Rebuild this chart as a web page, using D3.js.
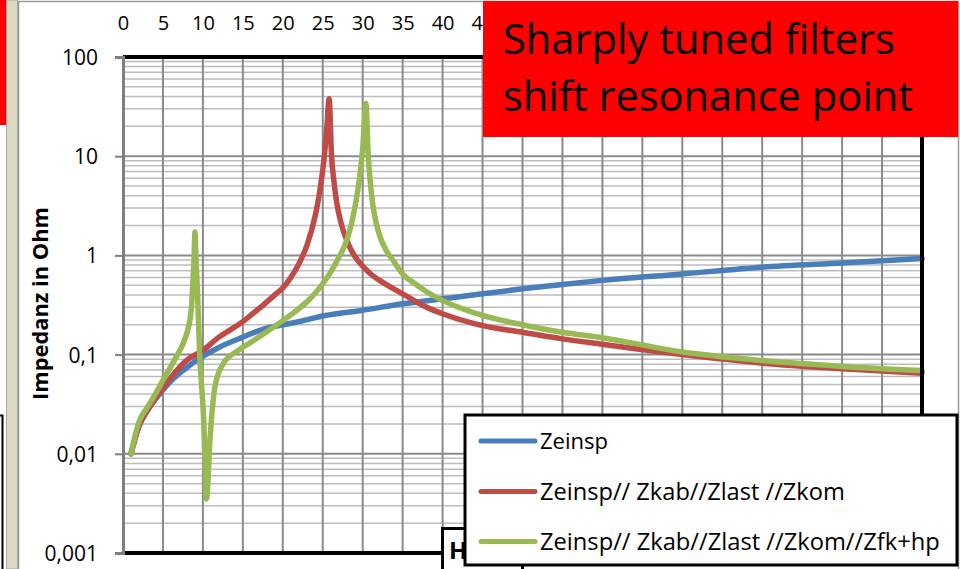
<!DOCTYPE html>
<html>
<head>
<meta charset="utf-8">
<script src="https://cdnjs.cloudflare.com/ajax/libs/d3/7.8.5/d3.min.js"></script>
<style>
  html, body { margin: 0; padding: 0; background: #ffffff; }
  svg { display: block; }
  text { font-family: "Open Sans", Lato, sans-serif; fill: #000; }
</style>
</head>
<body>
<svg id="chart" width="960" height="569"></svg>
<script>
// Frequency axis ticks (harmonic order) and impedance axis ticks
const freqTicks = [0, 5, 10, 15, 20, 25, 30, 35, 40, 45, 50, 55, 60, 65, 70, 75, 80, 85, 90, 95, 100];
const impTicks = [0.001, 0.01, 0.1, 1, 10, 100];
const impTickLabels = ["0,001", "0,01", "0,1", "1", "10", "100"];

// Series: [harmonic order, impedance in Ohm]
const zeinsp = [
  [1, 0.01], [2, 0.019], [3, 0.027], [4, 0.035], [5, 0.044], [6, 0.054], [7.5, 0.069],
  [9.6, 0.092], [12, 0.118], [15, 0.15], [17.5, 0.18], [20, 0.2], [21.7, 0.212],
  [25, 0.245], [30, 0.28], [35, 0.325], [40, 0.365], [45, 0.41], [50, 0.46],
  [55, 0.51], [60, 0.56], [70, 0.65], [80, 0.76], [90, 0.84], [100, 0.93]
];
const zkom = [
  [1, 0.01], [2, 0.019], [3, 0.027], [4, 0.036], [5, 0.046], [6.5, 0.066], [8, 0.088],
  [10, 0.11], [12, 0.15], [14, 0.19], [15, 0.215], [16, 0.25], [17, 0.29], [18, 0.34],
  [19, 0.4], [20, 0.47], [21, 0.6], [22, 0.82], [23, 1.25], [24, 2.4], [24.6, 4.3],
  [25.25, 11], [25.5, 19], [25.8, 38], [26.1, 10], [26.4, 5.6], [26.7, 3.6],
  [27.3, 2.1], [28, 1.42], [29, 0.98], [30, 0.78], [31, 0.65], [32.1, 0.56],
  [33.5, 0.48], [35, 0.41], [38, 0.3], [40, 0.258], [45, 0.196], [50, 0.168],
  [55, 0.144], [60, 0.127], [70, 0.1], [80, 0.082], [90, 0.072], [100, 0.065]
];
const zfkhp = [
  [1, 0.01], [2, 0.021], [3, 0.029], [3.8, 0.037], [5, 0.055], [6.3, 0.084],
  [7.5, 0.128], [8.0, 0.165], [8.4, 0.23], [8.6, 0.32], [8.75, 0.55], [8.9, 0.95],
  [9.0, 1.72], [9.15, 0.85], [9.3, 0.48], [9.6, 0.1], [10.1, 0.022], [10.45, 0.0035],
  [10.9, 0.0146], [11.5, 0.047], [12.5, 0.08], [14.4, 0.11], [16.3, 0.138], [18, 0.17],
  [20, 0.22], [21.5, 0.27], [23, 0.34], [24, 0.41], [25, 0.52], [26, 0.68], [27, 0.95],
  [28, 1.42], [28.6, 2.1], [29.1, 3.3], [29.6, 6], [30, 12], [30.4, 34], [30.7, 10],
  [31, 5], [31.3, 3.1], [31.7, 2.1], [32.1, 1.6], [33, 1.1], [33.8, 0.89], [35, 0.65],
  [36.5, 0.52], [38, 0.43], [40, 0.35], [42.5, 0.29], [45, 0.248], [50, 0.2],
  [55, 0.168], [60, 0.148], [70, 0.106], [80, 0.087], [90, 0.076], [100, 0.069]
];

const seriesNames = ["Zeinsp", "Zeinsp// Zkab//Zlast //Zkom", "Zeinsp// Zkab//Zlast //Zkom//Zfk+hp"];
const seriesColors = ["#4a7ebb", "#be4b48", "#98b954"];
const seriesData = [zeinsp, zkom, zfkhp];

const svg = d3.select("#chart");

// scale a text's font size so that it spans the given width
function fitWidth(sel, width) {
  sel.each(function () {
    const t = d3.select(this);
    const fs = parseFloat(t.attr("font-size"));
    const w = this.getComputedTextLength();
    if (w > 0) t.attr("font-size", (fs * width / w).toFixed(2));
  });
}

// Surrounding sheet: red marker, beige strip, neighbouring box corner
svg.append("rect").attr("x", 0).attr("y", 0).attr("width", 960).attr("height", 569).attr("fill", "#ffffff");
svg.append("rect").attr("x", 0).attr("y", 0).attr("width", 6).attr("height", 125).attr("fill", "#ff0000");
svg.append("rect").attr("x", 6.5).attr("y", 0).attr("width", 11).attr("height", 569)
  .attr("fill", "#ddd8c2").attr("stroke", "#a9a9a9").attr("stroke-width", 1);
svg.append("path").attr("d", "M0,415.5H2.5V569").attr("fill", "none").attr("stroke", "#000").attr("stroke-width", 2);

// Chart area frame
svg.append("rect").attr("x", 18.5).attr("y", 1.5).attr("width", 940).attr("height", 580)
  .attr("fill", "#ffffff").attr("stroke", "#9a9a9a").attr("stroke-width", 1.5);

const x = d3.scaleLinear().domain([0, 100]).range([123, 922]);
const y = d3.scaleLog().domain([0.001, 100]).range([553, 57]);

const grid = svg.append("g");
// minor horizontal grid lines (2..9 within each decade)
const minor = [];
for (let e = -3; e < 2; e++) for (let m = 2; m <= 9; m++) minor.push(m * Math.pow(10, e));
grid.selectAll("line.minor").data(minor).join("line")
  .attr("x1", x(0)).attr("x2", x(100))
  .attr("y1", d => y(d)).attr("y2", d => y(d))
  .attr("stroke", "#bdbdbd").attr("stroke-width", 1.5);
// major horizontal grid lines
grid.selectAll("line.major").data(impTicks).join("line")
  .attr("x1", x(0)).attr("x2", x(100))
  .attr("y1", d => y(d)).attr("y2", d => y(d))
  .attr("stroke", "#8a8a8a").attr("stroke-width", 2);
// vertical grid lines
grid.selectAll("line.vert").data(freqTicks.filter(d => d > 0 && d < 100)).join("line")
  .attr("x1", d => x(d)).attr("x2", d => x(d))
  .attr("y1", y(100)).attr("y2", y(0.001))
  .attr("stroke", "#8a8a8a").attr("stroke-width", 2);

// impedance curves
const line = d3.line().x(d => x(d[0])).y(d => y(d[1])).curve(d3.curveMonotoneX);
svg.append("g").selectAll("path").data(seriesData).join("path")
  .attr("d", line)
  .attr("fill", "none")
  .attr("stroke", (d, i) => seriesColors[i])
  .attr("stroke-width", 5.5)
  .attr("stroke-linecap", "round")
  .attr("stroke-linejoin", "round");

// plot area border (top, right, bottom)
svg.append("path")
  .attr("d", `M${x(0)},${y(100)}H${x(100)}V${y(0.001)}H${x(0)}`)
  .attr("fill", "none").attr("stroke", "#000").attr("stroke-width", 4);

// left value axis
const yAxis = d3.axisLeft(y).tickValues(impTicks).tickFormat((d, i) => impTickLabels[i]).tickSize(8).tickPadding(17);
const gy = svg.append("g").attr("transform", `translate(${x(0)},0)`).call(yAxis);
gy.select(".domain").attr("stroke", "#7f7f7f").attr("stroke-width", 3);
gy.selectAll(".tick line").attr("stroke", "#7f7f7f").attr("stroke-width", 2);
gy.selectAll(".tick text").attr("font-size", 21).attr("font-family", "Lato").attr("fill", "#1a1a1a").attr("dy", "0.36em");

// harmonic order axis labels along the top (the annotation box hides the rest)
const xAxis = d3.axisTop(x).tickValues(freqTicks.filter(d => x(d) <= 484)).tickFormat(d3.format("d")).tickSize(0).tickPadding(0);
const gx = svg.append("g").attr("transform", "translate(0,30)").call(xAxis);
gx.select(".domain").remove();
gx.selectAll(".tick text").attr("font-size", 20).attr("font-family", "Lato").attr("fill", "#1a1a1a").attr("dy", 0);

// axis title
const yTitle = svg.append("text")
  .attr("transform", "translate(48,303.5) rotate(-90)")
  .attr("text-anchor", "middle")
  .attr("font-size", 18).attr("font-weight", "bold")
  .text("Impedanz in Ohm");
fitWidth(yTitle, 193);

// horizontal axis title box (partly covered by the legend)
svg.append("rect").attr("x", 442.5).attr("y", 528.5).attr("width", 80).attr("height", 60)
  .attr("fill", "#fff").attr("stroke", "#000").attr("stroke-width", 3);
svg.append("text").attr("x", 449).attr("y", 559).attr("font-size", 24).attr("font-weight", "bold").text("H");

// legend
const legend = svg.append("g");
legend.append("rect").attr("x", 465).attr("y", 415).attr("width", 492).attr("height", 150)
  .attr("fill", "#fff").attr("stroke", "#000").attr("stroke-width", 3);
const rowY = [441, 491.5, 541.5];
const rowW = [68, 305, 400];
const items = legend.selectAll("g.item").data(seriesNames).join("g");
items.append("line")
  .attr("x1", 481).attr("x2", 535)
  .attr("y1", (d, i) => rowY[i]).attr("y2", (d, i) => rowY[i])
  .attr("stroke", (d, i) => seriesColors[i]).attr("stroke-width", 5).attr("stroke-linecap", "round");
items.append("text")
  .attr("x", 540).attr("y", (d, i) => rowY[i] + 8)
  .attr("font-size", 23)
  .style("white-space", "pre")
  .text(d => d)
  .each(function (d, i) { fitWidth(d3.select(this), rowW[i]); });

// annotation box
const note = svg.append("g");
note.append("rect").attr("x", 483).attr("y", 1).attr("width", 475).attr("height", 136).attr("fill", "#ff0000");
const l1 = note.append("text").attr("x", 503).attr("y", 54).attr("font-size", 40).text("Sharply tuned filters");
const l2 = note.append("text").attr("x", 503).attr("y", 111).attr("font-size", 40).text("shift resonance point");
fitWidth(l1, 392);
fitWidth(l2, 410);
</script>
</body>
</html>
